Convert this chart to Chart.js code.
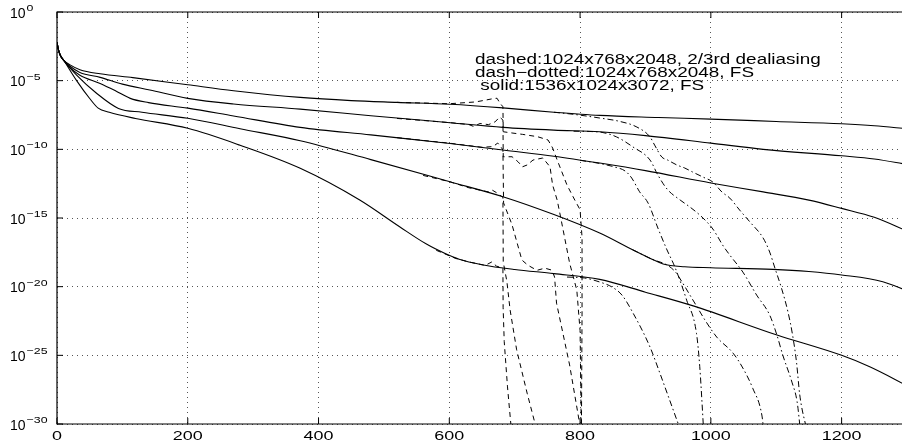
<!DOCTYPE html>
<html>
<head>
<meta charset="utf-8">
<script src="https://cdn.jsdelivr.net/npm/chart.js@4.4.1/dist/chart.umd.min.js"></script>
<style>
  html, body { margin: 0; padding: 0; background: #fff; overflow: hidden; }
  #wrap { width: 910px; height: 446px; }
</style>
</head>
<body>
<div id="wrap"><canvas id="spectra" width="910" height="446"></canvas></div>
<script>
// ticks
const xTicks = [0, 200, 400, 600, 800, 1000, 1200];
const yTickExps = [0, -5, -10, -15, -20, -25, -30];
const noteLines = [
  'dashed:1024x768x2048, 2/3rd dealiasing',
  'dash\u2212dotted:1024x768x2048, FS',
  ' solid:1536x1024x3072, FS'
];

// every curve is [k, log10(E)]
const solidA = [[0,-2.2],[2,-2.7],[5,-3.15],[10,-3.5],[20,-3.85],[35,-4.2],[66,-4.5],[116,-4.78],[200,-5.3],[270,-5.73],[372,-6.22],[450,-6.45],[520,-6.58],[601,-6.72],[682,-6.98],[760,-7.3],[830,-7.53],[920,-7.68],[1000,-7.8],[1100,-7.97],[1200,-8.14],[1250,-8.28],[1300,-8.5]];
const solidB = [[0,-2.2],[2,-2.7],[5,-3.15],[10,-3.5],[20,-3.95],[35,-4.4],[66,-4.76],[100,-5.25],[142,-5.68],[200,-6.29],[270,-6.7],[372,-7.07],[480,-7.55],[601,-8.06],[682,-8.4],[760,-8.6],[830,-8.72],[900,-9.0],[1000,-9.55],[1080,-10.0],[1200,-10.47],[1250,-10.7],[1300,-11.1]];
const solidC = [[0,-2.2],[2,-2.7],[5,-3.15],[10,-3.5],[20,-4.05],[35,-4.6],[66,-5.2],[90,-5.75],[112,-6.29],[140,-6.6],[200,-7.0],[270,-7.57],[372,-8.4],[480,-8.95],[601,-9.57],[682,-10.05],[760,-10.5],[830,-11.0],[900,-11.55],[1000,-12.45],[1080,-13.1],[1150,-13.7],[1200,-14.3],[1250,-14.95],[1300,-15.95]];
const solidD = [[0,-2.2],[2,-2.7],[5,-3.15],[10,-3.5],[30,-4.6],[60,-5.9],[94,-7.02],[130,-7.3],[200,-7.74],[280,-8.5],[372,-9.37],[480,-10.75],[601,-12.36],[682,-13.45],[760,-14.75],[830,-16.1],[881,-17.33],[910,-18.0],[927,-18.35],[960,-18.55],[1000,-18.62],[1095,-18.74],[1150,-18.9],[1200,-19.15],[1263,-19.64],[1300,-20.3]];
const solidE = [[0,-2.2],[2,-2.7],[5,-3.15],[10,-3.5],[30,-5.0],[50,-6.3],[63,-7.0],[80,-7.3],[120,-7.75],[200,-8.47],[280,-9.7],[372,-11.38],[463,-13.69],[524,-15.64],[565,-16.9],[592,-17.55],[615,-18.0],[650,-18.4],[700,-18.75],[760,-19.05],[830,-19.47],[900,-20.4],[973,-21.4],[1100,-23.5],[1200,-25.0],[1243,-25.83],[1300,-27.2]];

// dashed: 2/3 dealiased runs
const dashA = [[520,-6.58],[560,-6.63],[600,-6.68],[640,-6.55],[655,-6.42],[668,-6.3],[673,-6.28],[677,-6.6],[682,-6.9],[682.5,-8.72],[696,-8.81],[712,-8.91],[735,-9.08],[751,-9.32],[758,-9.9],[766,-10.9],[780,-12.6],[792,-13.7],[800,-14.4],[803,-16.4],[803,-22],[802,-31]];
const dashB = [[520,-7.75],[560,-7.9],[600,-8.05],[630,-8.2],[637,-8.33],[647,-8.12],[660,-8.2],[670,-8.0],[677,-7.65],[682,-7.87],[682.5,-10.54],[696,-10.54],[705,-10.9],[712,-11.27],[719,-11.14],[728,-10.78],[743,-10.63],[754,-11.27],[758,-12.6],[765,-13.7],[769,-14.64],[784,-18.28],[795,-20.25],[800,-23.2],[802,-31]];
const dashC = [[520,-9.15],[560,-9.35],[600,-9.55],[650,-9.85],[667,-9.8],[674,-9.54],[680,-9.9],[682,-10.05],[683,-13.9],[696,-15.5],[711,-18.06],[720,-18.43],[728,-18.65],[735,-18.8],[746,-18.65],[757,-18.8],[761,-19.3],[764,-21.2],[784,-25.7],[803,-31]];
const dashD = [[560,-11.9],[600,-12.35],[630,-12.8],[660,-13.1],[665,-12.95],[672,-13.15],[682,-13.5],[682.5,-18.2],[688,-19.6],[693,-21.7],[703,-24.6],[719,-27.75],[734,-30.5]];
const dashE = [[580,-17.35],[610,-17.95],[630,-18.2],[655,-18.45],[665,-18.2],[672,-18.5],[682,-18.65],[682.3,-21.5],[684,-24],[689,-27.3],[696,-31]];

// dash-dotted: full spectrum runs
const fsA = [[760,-7.3],[790,-7.45],[830,-7.72],[861,-7.97],[887,-8.38],[907,-9.1],[914,-9.69],[925,-10.56],[934,-10.78],[948,-11.14],[960,-11.36],[972,-11.65],[988,-12.02],[1003,-12.38],[1017,-13.11],[1029,-13.55],[1044,-14.42],[1060,-15.3],[1080,-16.46],[1090,-17.48],[1098,-18.65],[1108,-20.1],[1118,-21.85],[1125,-23.52],[1131,-25.49],[1136,-27.89],[1147,-30.5]];
const fsB = [[790,-8.68],[815,-8.7],[835,-8.78],[856,-9.1],[881,-9.83],[907,-10.78],[919,-11.87],[933,-12.89],[953,-13.69],[968,-14.2],[983,-14.78],[994,-15.29],[1002,-15.73],[1009,-16.24],[1018,-16.97],[1029,-17.7],[1049,-18.94],[1070,-20.61],[1090,-22.07],[1101,-23.52],[1110,-24.98],[1124,-26.95],[1132,-28.4],[1137,-30.5]];
const fsC = [[800,-10.8],[830,-11.03],[853,-11.29],[869,-11.58],[879,-12.09],[891,-13.09],[904,-13.91],[919,-15.73],[933,-17.33],[945,-18.57],[963,-20.98],[978,-23.39],[983,-25.8],[989,-30.5]];
const fsD = [[880,-17.3],[910,-18.0],[934,-18.45],[946,-18.94],[957,-19.74],[968,-20.61],[979,-21.48],[991,-22.43],[1009,-23.67],[1034,-24.84],[1049,-25.93],[1064,-27.39],[1078,-29.35],[1081,-30.5]];
const fsE = [[780,-19.3],[807,-19.37],[830,-19.66],[849,-20.03],[864,-20.61],[881,-21.92],[907,-24.4],[922,-26.29],[937,-28.26],[954,-30.5]];

const FONT = '"Liberation Sans", Arial, Helvetica, sans-serif';
const toPts = arr => arr.map(([k, e]) => ({ x: k, y: Math.pow(10, e) }));

function line(arr, dash, width, smooth) {
  return {
    data: toPts(arr),
    borderColor: '#000',
    borderWidth: width,
    borderDash: dash,
    pointRadius: 0,
    showLine: true,
    fill: false,
    cubicInterpolationMode: smooth ? 'monotone' : 'default',
    tension: 0
  };
}

function wideText(ctx, str, x, y, sx, align) {
  ctx.save();
  ctx.translate(x, y);
  ctx.scale(sx, 1);
  ctx.textAlign = align;
  ctx.fillText(str, 0, 0);
  ctx.restore();
}

// box, inner tick marks, tick labels and the note
const frame = {
  id: 'frame',
  afterDraw(chart) {
    const { ctx, chartArea: a, scales: { x, y } } = chart;
    ctx.save();
    ctx.strokeStyle = '#000';
    ctx.lineWidth = 1.2;
    ctx.beginPath();
    ctx.moveTo(a.right, a.top); ctx.lineTo(a.left, a.top);
    ctx.lineTo(a.left, a.bottom); ctx.lineTo(a.right, a.bottom);
    ctx.stroke();

    ctx.lineWidth = 1;
    ctx.beginPath();
    xTicks.forEach(v => {
      const px = x.getPixelForValue(v);
      ctx.moveTo(px, a.bottom); ctx.lineTo(px, a.bottom - 6);
      ctx.moveTo(px, a.top); ctx.lineTo(px, a.top + 6);
    });
    yTickExps.forEach(e => {
      const py = y.getPixelForValue(Math.pow(10, e));
      ctx.moveTo(a.left, py); ctx.lineTo(a.left + 6, py);
    });
    ctx.stroke();

    ctx.fillStyle = '#000';
    ctx.textBaseline = 'alphabetic';
    ctx.font = '13px ' + FONT;
    xTicks.forEach(v => {
      wideText(ctx, String(v), x.getPixelForValue(v), a.bottom + 15.5, 1.38, 'center');
    });

    yTickExps.forEach(e => {
      const py = y.getPixelForValue(Math.pow(10, e));
      ctx.font = '14px ' + FONT;
      ctx.textAlign = 'left';
      ctx.fillText('10', 10, py + 5.5);
      const w = ctx.measureText('10').width;
      ctx.font = '9.5px ' + FONT;
      const exp = e === 0 ? '0' : '\u2212' + Math.abs(e);
      wideText(ctx, exp, 10 + w + 1, py - 1, 1.3, 'left');
    });

    ctx.font = '14px ' + FONT;
    noteLines.forEach((s, i) => {
      wideText(ctx, s, 475, 63.5 + i * 13, 1.35, 'left');
    });
    ctx.restore();
  }
};

const DASH = [5, 4];
const DASHDOT = [6, 3, 1.5, 3];

new Chart(document.getElementById('spectra'), {
  type: 'scatter',
  data: {
    datasets: [
      line(solidA, [], 1.1, true), line(solidB, [], 1.1, true), line(solidC, [], 1.1, true),
      line(solidD, [], 1.1, true), line(solidE, [], 1.1, true),
      line(dashA, DASH, 1, false), line(dashB, DASH, 1, false), line(dashC, DASH, 1, false),
      line(dashD, DASH, 1, false), line(dashE, DASH, 1, false),
      line(fsA, DASHDOT, 1, true), line(fsB, DASHDOT, 1, true), line(fsC, DASHDOT, 1, true),
      line(fsD, DASHDOT, 1, true), line(fsE, DASHDOT, 1, true)
    ]
  },
  options: {
    responsive: false,
    animation: false,
    events: [],
    layout: { padding: { left: 57, right: 3, top: 12, bottom: 22 } },
    plugins: { legend: { display: false }, tooltip: { enabled: false } },
    scales: {
      x: {
        type: 'linear',
        min: 0,
        max: 1300,
        afterBuildTicks: s => { s.ticks = xTicks.map(v => ({ value: v })); },
        ticks: { display: false },
        grid: { color: '#555', lineWidth: 1, drawTicks: false },
        border: { display: false, dash: [1, 4] }
      },
      y: {
        type: 'logarithmic',
        min: 1e-30,
        max: 1,
        afterBuildTicks: s => { s.ticks = yTickExps.map(e => ({ value: Math.pow(10, e) })); },
        ticks: { display: false },
        grid: { color: '#555', lineWidth: 1, drawTicks: false },
        border: { display: false, dash: [1, 4] }
      }
    }
  },
  plugins: [frame]
});
</script>
</body>
</html>
